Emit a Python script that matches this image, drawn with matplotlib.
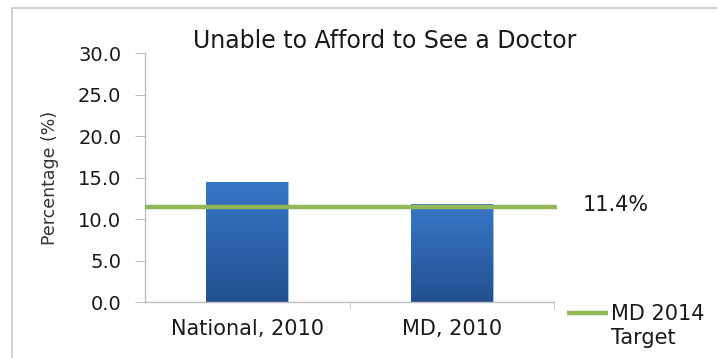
import numpy as np
import matplotlib
matplotlib.use("Agg")
import matplotlib.pyplot as plt
from matplotlib.lines import Line2D
from matplotlib.patches import Rectangle

categories = ["National, 2010", "MD, 2010"]
values = [14.4, 11.8]
target_value = 11.4
target_label = "11.4%"
legend_label = "MD 2014\nTarget"
title = "Unable to Afford to See a Doctor"
y_ticks = [0.0, 5.0, 10.0, 15.0, 20.0, 25.0, 30.0]

plt.rcParams["font.family"] = ["DejaVu Sans"]

fig = plt.figure(figsize=(7.17, 3.58), dpi=100)
ax = fig.add_axes([0.2022, 0.1564, 0.5705, 0.6955])

x = np.arange(len(categories))
bar_w = 0.4
bars = ax.bar(x, values, width=bar_w, color="#2d66b0", edgecolor="#9cc3ea",
              linewidth=0.6, zorder=2)

# vertical gradient inside each bar
grad = np.linspace(0, 1, 256).reshape(-1, 1)
cmap = matplotlib.colors.LinearSegmentedColormap.from_list(
    "blues", ["#22508f", "#3878c8"])
for b in bars:
    x0, y0 = b.get_x(), b.get_y()
    w, h = b.get_width(), b.get_height()
    im = ax.imshow(grad, extent=[x0, x0 + w, y0, y0 + h], origin="lower",
                   cmap=cmap, aspect="auto", zorder=2.5)
    im.set_clip_path(b)

ax.set_xlim(-0.5, 1.5)
ax.set_ylim(0, 30)

# target line
ax.plot([-0.5, 1.515], [target_value, target_value], color="#93b656",
        lw=3.2, solid_capstyle="butt", zorder=3, clip_on=False)
ax.text(1.64, target_value + 0.3, target_label, fontsize=15, va="center",
        ha="left", color="#1a1a1a")

ax.set_yticks(y_ticks)
ax.set_yticklabels([f"{v:.1f}" for v in y_ticks], fontsize=14, color="#1a1a1a")
ax.set_xticks(x)
ax.set_xticklabels(categories, fontsize=15, color="#1a1a1a")
ax.set_xticks([0.5, 1.5], minor=True)
ax.tick_params(axis="x", which="major", length=0, pad=12)
ax.tick_params(axis="x", which="minor", length=5, color="#bfbfbf")
ax.tick_params(axis="y", length=7, color="#bfbfbf", pad=10)
for s in ["top", "right"]:
    ax.spines[s].set_visible(False)
for s in ["left", "bottom"]:
    ax.spines[s].set_color("#bfbfbf")
    ax.spines[s].set_linewidth(1.0)

ax.set_ylabel("Percentage (%)", fontsize=12.5, color="#333333", labelpad=14)
ax.set_facecolor("white")

fig.text(0.537, 0.885, title, fontsize=17, ha="center", va="center",
         color="#1a1a1a")

# legend
fig.add_artist(Line2D([567 / 717, 608 / 717], [1 - 313 / 358, 1 - 313 / 358],
                      color="#93b656", lw=3.2, solid_capstyle="butt"))
fig.text(611 / 717, 1 - 326 / 358, legend_label, fontsize=15, ha="left",
         va="center", color="#1a1a1a", linespacing=1.3)

# chart border
fig.add_artist(Rectangle((12 / 717, -0.1), 1.2, 1 - 8 / 358 + 0.1,
                         transform=fig.transFigure, fill=False,
                         edgecolor="#c8c8c8", lw=1.2))

fig.savefig("out.png", dpi=100, facecolor="white")
